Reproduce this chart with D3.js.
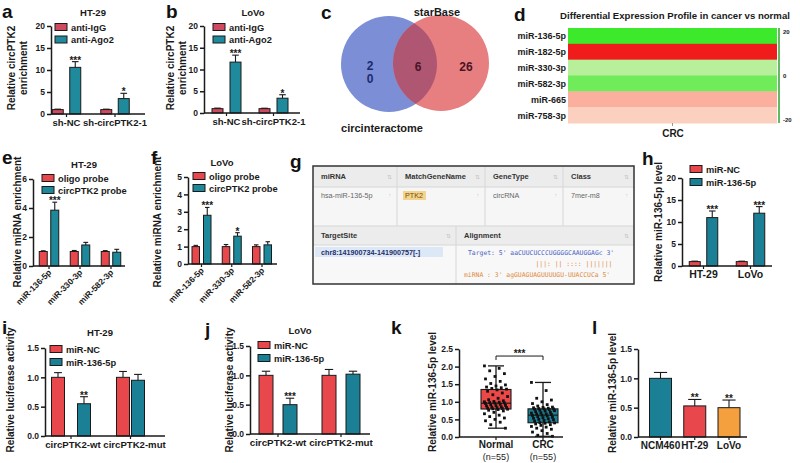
<!DOCTYPE html>
<html lang="en">
<head>
<meta charset="utf-8">
<title>circPTK2 / miR-136-5p</title>
<script src="https://cdn.jsdelivr.net/npm/d3@7"></script>
<style>
  body { margin: 0; background: #fff; }
  svg { display: block; font-family: "Liberation Sans", Arial, sans-serif; font-weight: bold; }
</style>
</head>
<body>
<svg id="fig" width="800" height="463"></svg>
<script>
// ---------- data ----------
// a, b : RIP
var ripCats = ["sh-NC", "sh-circPTK2-1"];
var ripNames = ["anti-IgG", "anti-Ago2"];
var ripTicks = [0, 5, 10, 15, 20];
var ripHT29Igg = [1.0, 1.0], ripHT29IggErr = [0.1, 0.1];
var ripHT29Ago = [10.6, 3.5], ripHT29AgoErr = [1.3, 1.2], ripHT29Stars = ["***", "*"];
var ripLoVoIgg = [1.0, 1.0], ripLoVoIggErr = [0.12, 0.1];
var ripLoVoAgo = [11.7, 3.4], ripLoVoAgoErr = [1.6, 0.8], ripLoVoStars = ["***", "*"];

// c : venn
var vennSets = ["circinteractome", "starBase"];
var vennCounts = ["2\n0", "6", "26"];

// d : heatmap
var heatRows = ["miR-136-5p", "miR-182-5p", "miR-330-3p", "miR-582-3p", "miR-665", "miR-758-3p"];
var heatVals = [19, -19, 7, 14, -6, -3];
var heatTicks = [20, 0, -20];

// e, f : pull-down
var pullCats = ["miR-136-5p", "miR-330-3p", "miR-582-3p"];
var pullNames = ["oligo probe", "circPTK2 probe"];
var pullHT29Oligo = [1.0, 1.0, 1.0], pullHT29OligoErr = [0.05, 0.07, 0.06];
var pullHT29Circ = [3.85, 1.45, 0.95], pullHT29CircErr = [0.55, 0.18, 0.2], pullHT29Stars = ["***", "", ""];
var pullLoVoOligo = [1.0, 1.0, 1.0], pullLoVoOligoErr = [0.07, 0.12, 0.1];
var pullLoVoCirc = [2.8, 1.6, 1.1], pullLoVoCircErr = [0.45, 0.2, 0.18], pullLoVoStars = ["***", "*", ""];

// g : starBase table
var tabHead1 = ["miRNA", "MatchGeneName", "GeneType", "Class"];
var tabRow1 = ["hsa-miR-136-5p", "PTK2", "circRNA", "7mer-m8"];
var tabHead2 = ["TargetSite", "Alignment"];
var tabSite = "chr8:141900734-141900757[-]";
var tabAlign = ["Target: 5' aaCUUCUCCCUGGGGCAAUGGAGc 3'", "|||: ||   :::: |||||||", "miRNA : 3' agGUAGUAGUUUUGU-UUACCUCa 5'"];

// h : overexpression
var ovCats = ["HT-29", "LoVo"];
var ovNames = ["miR-NC", "miR-136-5p"];
var ovNC = [1.0, 1.0], ovNCErr = [0.1, 0.1];
var ovMim = [11.0, 12.0], ovMimErr = [1.5, 1.5], ovStars = ["***", "***"];

// i, j : luciferase
var lucCats = ["circPTK2-wt", "circPTK2-mut"];
var lucNames = ["miR-NC", "miR-136-5p"];
var lucTicks = [0, 0.5, 1.0, 1.5];
var lucHT29NC = [1.0, 1.0], lucHT29NCErr = [0.08, 0.1];
var lucHT29Mim = [0.55, 0.95], lucHT29MimErr = [0.12, 0.1], lucHT29Stars = ["**", ""];
var lucLoVoNC = [1.0, 1.0], lucLoVoNCErr = [0.07, 0.1];
var lucLoVoMim = [0.5, 1.02], lucLoVoMimErr = [0.11, 0.05], lucLoVoStars = ["***", ""];

// k : tissues
var tisCats = ["Normal", "CRC"];
var tisN = ["(n=55)", "(n=55)"];
var tisTicks = [0, 0.5, 1.0, 1.5, 2.0, 2.5];
var tisNormal = [2.02, 1.95, 1.88, 1.8, 1.72, 1.65, 1.58, 1.52, 1.48, 1.45,
  1.42, 1.4, 1.38, 1.36, 1.34, 1.3, 1.25, 1.2, 1.15, 1.1,
  1.06, 1.03, 1.01, 1.0, 0.99, 0.98, 0.97, 0.96, 0.95, 0.93,
  0.92, 0.9, 0.89, 0.88, 0.86, 0.85, 0.84, 0.83, 0.82, 0.81,
  0.8, 0.79, 0.78, 0.76, 0.74, 0.7, 0.66, 0.62, 0.58, 0.54,
  0.5, 0.46, 0.42, 0.35, 0.25];
var tisCRC = [1.55, 1.32, 1.1, 1.05, 1.0, 0.95, 0.92, 0.88, 0.85, 0.84,
  0.83, 0.82, 0.81, 0.8, 0.8, 0.79, 0.78, 0.76, 0.75, 0.74,
  0.72, 0.7, 0.69, 0.68, 0.66, 0.65, 0.64, 0.62, 0.61, 0.6,
  0.58, 0.56, 0.55, 0.53, 0.52, 0.5, 0.49, 0.47, 0.45, 0.43,
  0.41, 0.4, 0.39, 0.37, 0.35, 0.33, 0.3, 0.28, 0.25, 0.22,
  0.18, 0.14, 0.1, 0.05, 0.02];

// l : cell lines
var cellCats = ["NCM460", "HT-29", "LoVo"];
var cellVals = [1.0, 0.53, 0.5], cellErr = [0.1, 0.11, 0.13], cellStars = ["", "**", "**"];

// ---------- drawing ----------
var svg = d3.select("#fig");
svg.append("rect").attr("width", 800).attr("height", 463).attr("fill", "#fff");

var RED = "#e8474c", TEAL = "#1b7f96", INK = "#1a1a1a";

function label(txt, x, y) {
  svg.append("text").attr("x", x).attr("y", y).attr("font-size", 19).attr("fill", "#111").text(txt);
}

function ylab(lines, x, cy, size) {
  lines.forEach(function(t, i) {
    svg.append("text")
      .attr("transform", "translate(" + (x + i * 12) + "," + cy + ") rotate(-90)")
      .attr("text-anchor", "middle").attr("font-size", size || 10).attr("fill", INK)
      .text(t);
  });
}

function yAxis(g, y, x0, ticks, fmt) {
  var ax = g.append("g").attr("transform", "translate(" + x0 + ",0)")
    .call(d3.axisLeft(y).tickValues(ticks).tickSize(4).tickSizeOuter(0).tickFormat(fmt));
  ax.select(".domain").attr("stroke", INK).attr("stroke-width", 1.5);
  ax.selectAll(".tick line").attr("stroke", INK).attr("stroke-width", 1.5);
  ax.selectAll(".tick text").attr("font-size", 8.5).attr("font-family", "Liberation Sans, Arial")
    .attr("font-weight", "bold").attr("fill", INK).attr("dx", 1);
  return ax;
}

function barPanel(o) {
  var g = svg.append("g");
  var y = d3.scaleLinear().domain([0, o.yMax]).range([o.yBase, o.yTop]);
  var x = d3.scalePoint().domain(o.cats).range(o.centers);
  var n = o.series.length;

  o.series.forEach(function(s, si) {
    o.cats.forEach(function(c, ci) {
      var gap = Array.isArray(o.gap) ? o.gap[ci] : o.gap;
      var cx = x(c) + (si - (n - 1) / 2) * gap;
      var v = s.vals[ci], e = s.errs[ci];
      var fill = Array.isArray(s.fill) ? s.fill[ci] : s.fill;
      g.append("line").attr("x1", cx).attr("x2", cx).attr("y1", y(v)).attr("y2", y(v + e))
        .attr("stroke", INK).attr("stroke-width", 1.1);
      g.append("line").attr("x1", cx - o.w * 0.3).attr("x2", cx + o.w * 0.3)
        .attr("y1", y(v + e)).attr("y2", y(v + e)).attr("stroke", INK).attr("stroke-width", 1.1);
      g.append("rect").attr("x", cx - o.w / 2).attr("y", y(v)).attr("width", o.w)
        .attr("height", o.yBase - y(v)).attr("fill", fill).attr("stroke", INK).attr("stroke-width", 1);
      if (s.stars && s.stars[ci]) {
        g.append("text").attr("x", cx).attr("y", y(v + e) + 2).attr("text-anchor", "middle")
          .attr("font-size", 10).attr("fill", INK).text(s.stars[ci]);
      }
    });
  });

  yAxis(g, y, o.xAxis, o.ticks, o.fmt || d3.format("d"));
  g.append("line").attr("x1", o.xAxis).attr("x2", o.xEnd).attr("y1", o.yBase).attr("y2", o.yBase)
    .attr("stroke", INK).attr("stroke-width", 1.5);
  o.cats.forEach(function(c, ci) {
    g.append("line").attr("x1", x(c)).attr("x2", x(c)).attr("y1", o.yBase).attr("y2", o.yBase + 3)
      .attr("stroke", INK).attr("stroke-width", 1.2);
    if (o.rotate) {
      g.append("text").attr("transform", "translate(" + (x(c) + 3) + "," + (o.yBase + 7) + ") rotate(-45)")
        .attr("text-anchor", "end").attr("font-size", 8.5).attr("fill", INK).text(c);
    } else {
      var shift = o.catShift ? o.catShift[ci] : 0;
      g.append("text").attr("x", x(c) + shift).attr("y", o.yBase + 12).attr("text-anchor", "middle")
        .attr("font-size", o.catSize || 9.5).attr("fill", INK).text(c);
    }
  });

  if (o.title) {
    g.append("text").attr("x", o.title[1]).attr("y", o.title[2]).attr("text-anchor", "middle")
      .attr("font-size", 9.5).attr("fill", INK).text(o.title[0]);
  }
  if (o.legend) {
    o.series.forEach(function(s, si) {
      var ly = o.legend[1] + si * o.legend[2];
      g.append("rect").attr("x", o.legend[0]).attr("y", ly - 3.5).attr("width", 12).attr("height", 7)
        .attr("fill", s.fill).attr("stroke", INK).attr("stroke-width", 1);
      g.append("text").attr("x", o.legend[0] + 16).attr("y", ly + 3.5).attr("font-size", 9.3)
        .attr("fill", INK).text(s.name);
    });
  }
}

// a
label("a", 2, 18);
ylab(["Relative circPTK2", "enrichment"], 15, 68);
barPanel({ cats: ripCats, yMax: 20, ticks: ripTicks, xAxis: 51, xEnd: 145, yBase: 114, yTop: 26,
  centers: [66.5, 115], gap: 17.5, w: 11, title: ["HT-29", 93, 16], legend: [55, 27, 12.5],
  series: [{ name: ripNames[0], vals: ripHT29Igg, errs: ripHT29IggErr, fill: "#cf4a5e" },
           { name: ripNames[1], vals: ripHT29Ago, errs: ripHT29AgoErr, fill: "#1f8a9c", stars: ripHT29Stars }] });

// b
label("b", 166, 18);
ylab(["Relative circPTK2", "enrichment"], 174, 68);
barPanel({ cats: ripCats, yMax: 20, ticks: ripTicks, xAxis: 204, xEnd: 300, yBase: 113, yTop: 26,
  centers: [226.5, 273.5], gap: 18, w: 11, title: ["LoVo", 253, 16], legend: [213, 27, 12.5],
  series: [{ name: ripNames[0], vals: ripLoVoIgg, errs: ripLoVoIggErr, fill: "#cf4a5e" },
           { name: ripNames[1], vals: ripLoVoAgo, errs: ripLoVoAgoErr, fill: "#1f8a9c", stars: ripLoVoStars }] });

// c : venn
label("c", 321, 19);
(function() {
  var g = svg.append("g");
  var circ = [{ cx: 389, cy: 64, r: 48, fill: "#7c8ed6" }, { cx: 441, cy: 63, r: 48, fill: "#e77e80" }];
  g.append("clipPath").attr("id", "vennClip").append("circle")
    .attr("cx", circ[0].cx).attr("cy", circ[0].cy).attr("r", circ[0].r);
  circ.forEach(function(c) {
    g.append("circle").attr("cx", c.cx).attr("cy", c.cy).attr("r", c.r).attr("fill", c.fill);
  });
  g.append("circle").attr("cx", circ[1].cx).attr("cy", circ[1].cy).attr("r", circ[1].r)
    .attr("fill", "#ae5672").attr("clip-path", "url(#vennClip)");
  var pos = [[370, 70], [418, 71], [466, 71]];
  var col = ["#1b2b6e", "#4a1424", "#4a1424"];
  vennCounts.forEach(function(t, i) {
    t.split("\n").forEach(function(s, j) {
      g.append("text").attr("x", pos[i][0]).attr("y", pos[i][1] + j * 13)
        .attr("text-anchor", "middle").attr("font-size", 12).attr("fill", col[i]).text(s);
    });
  });
  g.append("text").attr("x", 382).attr("y", 132).attr("text-anchor", "middle").attr("font-size", 11)
    .attr("fill", INK).text(vennSets[0]);
  g.append("text").attr("x", 437).attr("y", 16).attr("text-anchor", "middle").attr("font-size", 11)
    .attr("fill", INK).text(vennSets[1]);
})();

// d : heatmap
label("d", 514, 21);
(function() {
  var g = svg.append("g");
  var y = d3.scaleBand().domain(heatRows).range([28, 123]);
  var x = d3.scaleBand().domain(["CRC"]).range([568, 777]);
  var color = d3.scaleLinear().domain([-20, 0, 20]).range(["#ee1111", "#fff2dc", "#33e822"]);
  heatRows.forEach(function(r, i) {
    g.append("rect").attr("x", x("CRC")).attr("y", y(r)).attr("width", x.bandwidth())
      .attr("height", y.bandwidth() + 0.5).attr("fill", color(heatVals[i]));
    g.append("text").attr("x", 566).attr("y", y(r) + y.bandwidth() / 2 + 3.5).attr("text-anchor", "end")
      .attr("font-size", 9).attr("fill", INK).text(r);
  });
  g.append("text").attr("x", 675).attr("y", 19).attr("text-anchor", "middle").attr("font-size", 9.6)
    .attr("fill", INK).text("Differential Expression Profile in cancer vs normal");
  g.append("line").attr("x1", x("CRC") + x.bandwidth() / 2).attr("x2", x("CRC") + x.bandwidth() / 2)
    .attr("y1", 123).attr("y2", 126).attr("stroke", "#999");
  g.append("text").attr("x", 673).attr("y", 137).attr("text-anchor", "middle").attr("font-size", 10)
    .attr("fill", INK).text("CRC");
  var cb = d3.scaleLinear().domain([20, -20]).range([32, 120]);
  g.append("line").attr("x1", 779).attr("x2", 779).attr("y1", 28).attr("y2", 123)
    .attr("stroke", "#3da83d").attr("stroke-width", 1.6);
  heatTicks.forEach(function(t) {
    g.append("text").attr("x", 783).attr("y", cb(t) + 2).attr("font-size", 6).attr("fill", INK).text(t);
  });
})();

// e
label("e", 2, 164);
ylab(["Relative miRNA enrichment"], 21, 222);
barPanel({ cats: pullCats, yMax: 6, ticks: [0, 2, 4, 6], xAxis: 33, xEnd: 125, yBase: 266, yTop: 179,
  centers: [49, 111], gap: 11.5, w: 8, rotate: true, title: ["HT-29", 84, 168], legend: [42, 178, 12],
  series: [{ name: pullNames[0], vals: pullHT29Oligo, errs: pullHT29OligoErr, fill: RED },
           { name: pullNames[1], vals: pullHT29Circ, errs: pullHT29CircErr, fill: "#1c889a", stars: pullHT29Stars }] });

// f
label("f", 151, 164);
ylab(["Relative miRNA enrichment"], 161, 222);
barPanel({ cats: pullCats, yMax: 5, ticks: [0, 1, 2, 3, 4, 5], xAxis: 188, xEnd: 277, yBase: 264, yTop: 177,
  centers: [201.5, 262], gap: 11.5, w: 7.5, rotate: true, title: ["LoVo", 222, 166], legend: [193, 176, 12],
  series: [{ name: pullNames[0], vals: pullLoVoOligo, errs: pullLoVoOligoErr, fill: RED },
           { name: pullNames[1], vals: pullLoVoCirc, errs: pullLoVoCircErr, fill: "#1c889a", stars: pullLoVoStars }] });

// g : table
label("g", 290, 168);
(function() {
  var g = svg.append("g").attr("font-family", "Liberation Sans, Arial");
  var L = 313, R = 634;
  var cols = [313, 397, 485, 563, 634];
  var rows = [166, 187, 226, 245, 284];
  var bg = ["#ececec", "#f6f6f6", "#ececec", "#f8f8f8"];
  bg.forEach(function(c, i) {
    g.append("rect").attr("x", L).attr("y", rows[i]).attr("width", R - L).attr("height", rows[i + 1] - rows[i]).attr("fill", c);
  });
  [1, 2, 3].forEach(function(i) {
    g.append("line").attr("x1", cols[i]).attr("x2", cols[i]).attr("y1", rows[0]).attr("y2", rows[2])
      .attr("stroke", "#d6d6d6");
    g.append("line").attr("x1", L).attr("x2", R).attr("y1", rows[i]).attr("y2", rows[i]).attr("stroke", "#d6d6d6");
  });
  g.append("line").attr("x1", 456).attr("x2", 456).attr("y1", rows[2]).attr("y2", rows[4]).attr("stroke", "#d6d6d6");
  tabHead1.forEach(function(t, i) {
    g.append("text").attr("x", cols[i] + 8).attr("y", 179).attr("font-size", 7.5).attr("fill", "#333").text(t);
    g.append("text").attr("x", cols[i + 1] - 5).attr("y", 179).attr("text-anchor", "end")
      .attr("font-size", 6).attr("font-weight", "normal").attr("fill", "#c4c4c4").text("⇅");
  });
  tabRow1.forEach(function(t, i) {
    if (i === 1) {
      g.append("rect").attr("x", cols[i] + 6).attr("y", 191).attr("width", 23).attr("height", 9).attr("fill", "#f3d48c");
    }
    g.append("text").attr("x", cols[i] + 8).attr("y", 198).attr("font-size", 7.2)
      .attr("font-weight", "normal").attr("fill", i === 1 ? "#7a4a10" : "#666").text(t);
    g.append("text").attr("x", cols[i + 1] - 6).attr("y", 197).attr("text-anchor", "end")
      .attr("font-size", 5).attr("font-weight", "normal").attr("fill", "#c8c8c8").text("↑");
  });
  var c2 = [313, 456, 634];
  tabHead2.forEach(function(t, i) {
    g.append("text").attr("x", c2[i] + 8).attr("y", 238).attr("font-size", 7.5).attr("fill", "#333").text(t);
    g.append("text").attr("x", c2[i + 1] - 5).attr("y", 238).attr("text-anchor", "end")
      .attr("font-size", 6).attr("font-weight", "normal").attr("fill", "#c4c4c4").text("⇅");
  });
  g.append("rect").attr("x", 315).attr("y", 247).attr("width", 128).attr("height", 10).attr("fill", "#dde8f6");
  g.append("text").attr("x", 321).attr("y", 255).attr("font-size", 7.2).attr("fill", "#1d2f6a").text(tabSite);
  var acol = ["#4a62c4", "#e08a3c", "#e08a3c"];
  tabAlign.forEach(function(t, i) {
    g.append("text").attr("x", i === 1 ? 574 : (i === 2 ? 464 : 468)).attr("y", 255 + i * 11)
      .attr("text-anchor", i === 1 ? "middle" : "start")
      .attr("font-family", "DejaVu Sans Mono, monospace").attr("font-size", 6.4)
      .attr("font-weight", "normal").attr("fill", acol[i]).text(t);
  });
  g.append("rect").attr("x", L).attr("y", rows[0]).attr("width", R - L).attr("height", rows[4] - rows[0])
    .attr("fill", "none").attr("stroke", "#333").attr("stroke-width", 1.5);
})();

// h
label("h", 642, 165);
ylab(["Relative miR-136-5p level"], 662, 222);
barPanel({ cats: ovCats, yMax: 20, ticks: ripTicks, xAxis: 682, xEnd: 772, yBase: 266, yTop: 178,
  centers: [703.5, 750.5], gap: 17.5, w: 11, legend: [690, 169, 13], catSize: 10.5,
  series: [{ name: ovNames[0], vals: ovNC, errs: ovNCErr, fill: RED },
           { name: ovNames[1], vals: ovMim, errs: ovMimErr, fill: TEAL, stars: ovStars }] });

// i
label("i", 2, 334);
ylab(["Relative luciferase activity"], 14, 390);
barPanel({ cats: lucCats, yMax: 1.5, ticks: lucTicks, fmt: d3.format(".1f"), xAxis: 45, xEnd: 165,
  yBase: 436, yTop: 348, centers: [71, 130.5], gap: [26, 15], w: 13, title: ["HT-29", 100, 336],
  legend: [50, 349, 13], catSize: 9.6, catShift: [2, 4],
  series: [{ name: lucNames[0], vals: lucHT29NC, errs: lucHT29NCErr, fill: RED },
           { name: lucNames[1], vals: lucHT29Mim, errs: lucHT29MimErr, fill: TEAL, stars: lucHT29Stars }] });

// j
label("j", 205, 336);
ylab(["Relative luciferase activity"], 233, 390);
barPanel({ cats: lucCats, yMax: 1.5, ticks: lucTicks, fmt: d3.format(".1f"), xAxis: 250, xEnd: 370,
  yBase: 434, yTop: 346, centers: [278, 341], gap: 24, w: 14, title: ["LoVo", 300, 334],
  legend: [258, 345, 13], catSize: 9.8,
  series: [{ name: lucNames[0], vals: lucLoVoNC, errs: lucLoVoNCErr, fill: RED },
           { name: lucNames[1], vals: lucLoVoMim, errs: lucLoVoMimErr, fill: TEAL, stars: lucLoVoStars }] });

// k : box plot
label("k", 391, 334);
ylab(["Relative miR-136-5p level"], 436, 392);
(function() {
  var g = svg.append("g");
  var y = d3.scaleLinear().domain([0, 2.5]).range([437, 349]);
  var x = d3.scalePoint().domain(tisCats).range([496, 543]);
  var groups = [{ vals: tisNormal, fill: "#ec4848" }, { vals: tisCRC, fill: TEAL }];
  groups.forEach(function(gr, gi) {
    var s = gr.vals.slice().sort(d3.ascending);
    var q1 = d3.quantile(s, 0.25), med = d3.quantile(s, 0.5), q3 = d3.quantile(s, 0.75);
    var lo = s[0], hi = s[s.length - 1];
    var cx = x(tisCats[gi]), bw = 30, cw = 16;
    g.append("line").attr("x1", cx).attr("x2", cx).attr("y1", y(hi)).attr("y2", y(lo)).attr("stroke", INK).attr("stroke-width", 1.3);
    [lo, hi].forEach(function(v) {
      g.append("line").attr("x1", cx - cw / 2).attr("x2", cx + cw / 2).attr("y1", y(v)).attr("y2", y(v))
        .attr("stroke", INK).attr("stroke-width", 1.3);
    });
    g.append("rect").attr("x", cx - bw / 2).attr("y", y(q3)).attr("width", bw).attr("height", y(q1) - y(q3))
      .attr("fill", gr.fill).attr("stroke", INK).attr("stroke-width", 1.1);
    g.append("line").attr("x1", cx - bw / 2).attr("x2", cx + bw / 2).attr("y1", y(med)).attr("y2", y(med))
      .attr("stroke", INK).attr("stroke-width", 1.2);
    gr.vals.forEach(function(v, i) {
      var dx = ((i * 37) % 23 - 11) * 1.05;
      g.append("rect").attr("x", cx + dx - 1.4).attr("y", y(v) - 1.4).attr("width", 2.8).attr("height", 2.8)
        .attr("fill", "#111");
    });
    g.append("text").attr("x", cx).attr("y", 448).attr("text-anchor", "middle").attr("font-size", 10)
      .attr("fill", INK).text(tisCats[gi]);
    g.append("text").attr("x", cx).attr("y", 460).attr("text-anchor", "middle").attr("font-size", 9)
      .attr("font-weight", "normal").attr("fill", INK).text(tisN[gi]);
  });
  yAxis(g, y, 459, tisTicks, d3.format(".1f"));
  g.append("line").attr("x1", 459).attr("x2", 563).attr("y1", 437).attr("y2", 437).attr("stroke", INK).attr("stroke-width", 1.5);
  tisCats.forEach(function(c) {
    g.append("line").attr("x1", x(c)).attr("x2", x(c)).attr("y1", 437).attr("y2", 440).attr("stroke", INK).attr("stroke-width", 1.2);
  });
  var by = y(2.3);
  g.append("path").attr("d", "M" + x("Normal") + "," + (by + 4) + "V" + by + "H" + x("CRC") + "V" + (by + 4))
    .attr("fill", "none").attr("stroke", INK).attr("stroke-width", 1);
  g.append("text").attr("x", (x("Normal") + x("CRC")) / 2).attr("y", by + 1).attr("text-anchor", "middle")
    .attr("font-size", 10).attr("fill", INK).text("***");
})();

// l
label("l", 592, 334);
ylab(["Relative miR-136-5p level"], 616, 393);
barPanel({ cats: cellCats, yMax: 1.5, ticks: lucTicks, fmt: d3.format(".1f"), xAxis: 638, xEnd: 747,
  yBase: 437, yTop: 349, centers: [660.5, 729], gap: 0, w: 22, catSize: 10,
  series: [{ name: "", vals: cellVals, errs: cellErr, fill: [TEAL, RED, "#f4a03e"], stars: cellStars }] });
</script>
</body>
</html>
